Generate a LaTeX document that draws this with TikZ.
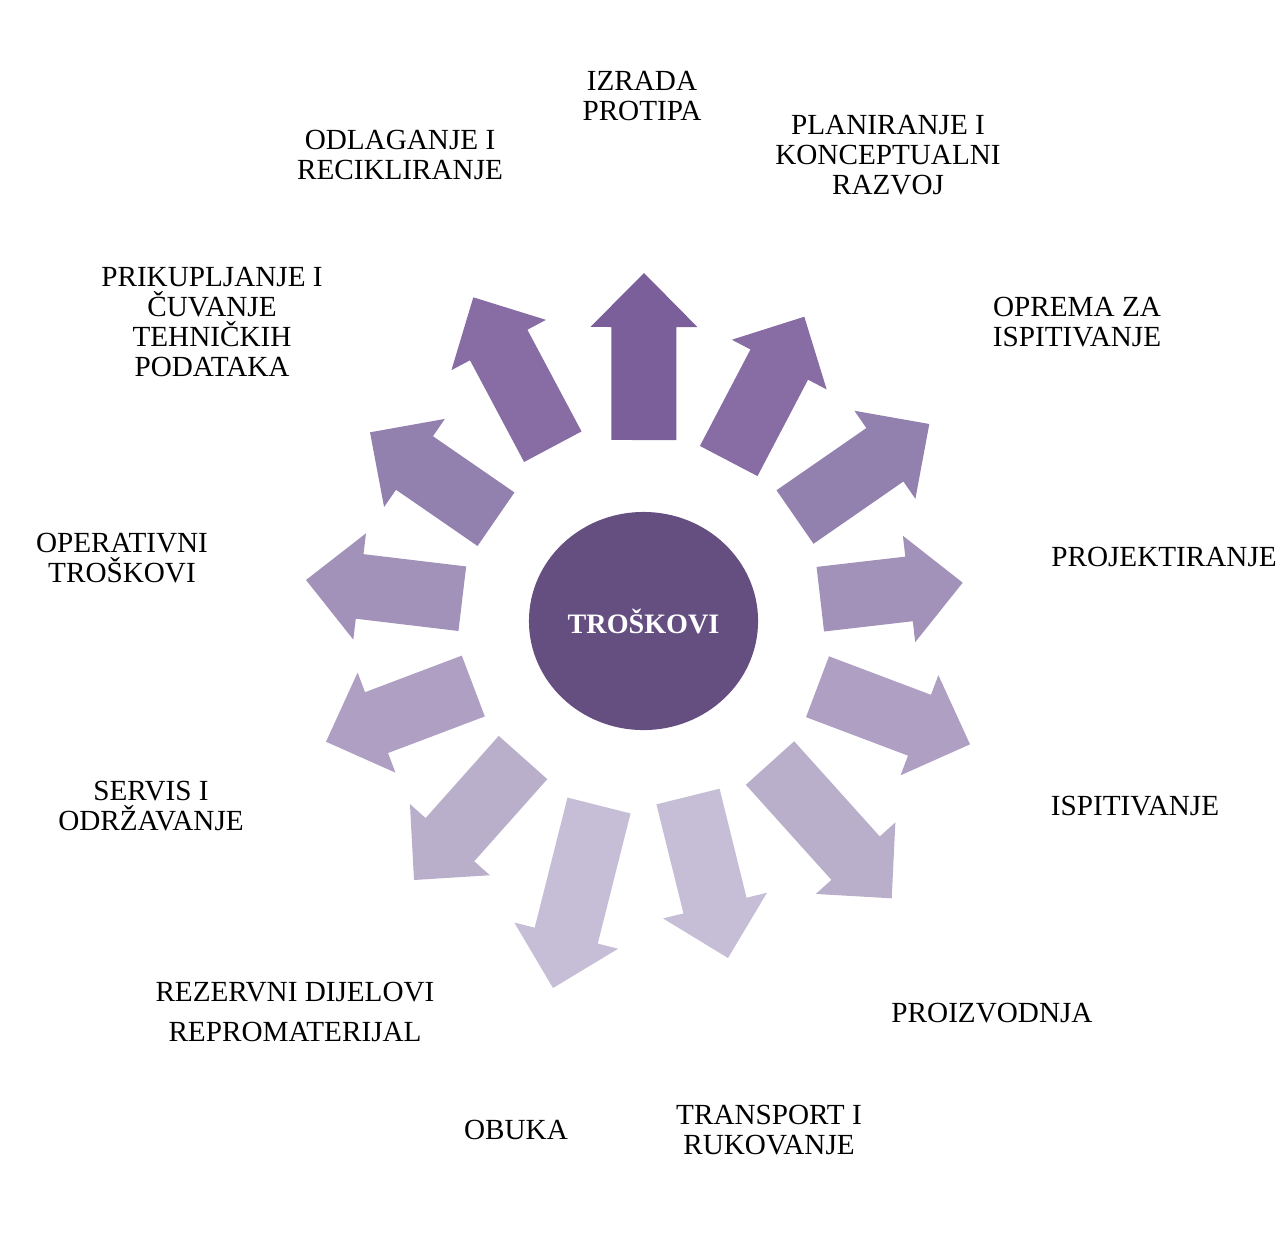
\documentclass[tikz,border=0pt]{standalone}
\usepackage{fontspec}
\setmainfont{Liberation Serif}
\usepackage{tikz}
\usetikzlibrary{shapes.geometric,calc}

\definecolor{hubpurple}{HTML}{654E80}
\definecolor{arr0}{HTML}{7B5F9B}
\definecolor{arr1}{HTML}{876DA3}
\definecolor{arr2}{HTML}{9280AE}
\definecolor{arr3}{HTML}{A292B9}
\definecolor{arr4}{HTML}{AFA0C3}
\definecolor{arr5}{HTML}{B9AFCA}
\definecolor{arr6}{HTML}{C6BED6}

\tikzset{
  costlabel/.style={align=center, inner sep=0pt, text=black, font=\fontsize{8.3}{8.6}\selectfont},
  hub/.style={ellipse, fill=hubpurple, minimum width=2.29cm, minimum height=2.18cm, inner sep=0pt,
    text=white, font=\fontsize{8}{9.6}\selectfont\bfseries}
}

% block arrow from base (#1) to tip (#2), filled with #3
\newcommand{\costarrow}[3]{%
  \coordinate (h) at ($(#2)!0.54cm!(#1)$);
  \fill[#3] ($(#1)!0.325cm!90:(#2)$) -- ($(h)!0.325cm!90:(#2)$) -- ($(h)!0.535cm!90:(#2)$)
    -- (#2) -- ($(h)!0.535cm!-90:(#2)$) -- ($(h)!0.325cm!-90:(#2)$) -- ($(#1)!0.325cm!-90:(#2)$) -- cycle;
}

\begin{document}
\begin{tikzpicture}[x=0.01cm, y=-0.01cm]
    \useasboundingbox (0,0) rectangle (1283,1233);

    % Centre
    \node[hub] (troskovi) at (643.5,621) {TROŠKOVI};

    % Arrow bases and tips
    \coordinate (b1) at (643.8,440);  \coordinate (t1) at (644,273);
    \coordinate (b2) at (728.7,461);  \coordinate (t2) at (804.3,316.7);
    \coordinate (b3) at (795,517);    \coordinate (t3) at (929.3,424);
    \coordinate (b4) at (820.3,599.2); \coordinate (t4) at (962.7,582.7);
    \coordinate (b5) at (817.5,686.7); \coordinate (t5) at (970,744.3);
    \coordinate (b6) at (770,763);    \coordinate (t6) at (891.7,898.3);
    \coordinate (b7) at (688,796.5);  \coordinate (t7) at (728,958);
    \coordinate (b8) at (599,805.5);  \coordinate (t8) at (553,988);
    \coordinate (b9) at (523,757.5);  \coordinate (t9) at (414,880);
    \coordinate (b10) at (473.3,686); \coordinate (t10) at (326,741.7);
    \coordinate (b11) at (462.3,598.7); \coordinate (t11) at (306,580);
    \coordinate (b12) at (496,519.2); \coordinate (t12) at (370,432.3);
    \coordinate (b13) at (552.8,446.7); \coordinate (t13) at (473.3,297.3);

    % Arrows
    \costarrow{b1}{t1}{arr0}
    \costarrow{b2}{t2}{arr1}
    \costarrow{b3}{t3}{arr2}
    \costarrow{b4}{t4}{arr3}
    \costarrow{b5}{t5}{arr4}
    \costarrow{b6}{t6}{arr5}
    \costarrow{b7}{t7}{arr6}
    \costarrow{b8}{t8}{arr6}
    \costarrow{b9}{t9}{arr5}
    \costarrow{b10}{t10}{arr4}
    \costarrow{b11}{t11}{arr3}
    \costarrow{b12}{t12}{arr2}
    \costarrow{b13}{t13}{arr1}

    % Labels
    \node[costlabel] (izrada) at (642,96) {IZRADA\\PROTIPA};
    \node[costlabel] (planiranje) at (888,155) {PLANIRANJE I\\KONCEPTUALNI\\RAZVOJ};
    \node[costlabel] (oprema) at (1077,322) {OPREMA ZA\\ISPITIVANJE};
    \node[costlabel] (projektiranje) at (1164,557) {PROJEKTIRANJE};
    \node[costlabel] (ispitivanje) at (1135,806) {ISPITIVANJE};
    \node[costlabel] (proizvodnja) at (992,1013) {PROIZVODNJA};
    \node[costlabel] (transport) at (769,1130) {TRANSPORT I\\RUKOVANJE};
    \node[costlabel] (obuka) at (516,1130) {OBUKA};
    \node[costlabel] (rezervni) at (295,1012) {REZERVNI DIJELOVI\\[3pt]REPROMATERIJAL};
    \node[costlabel] (servis) at (151,806) {SERVIS I\\ODRŽAVANJE};
    \node[costlabel] (operativni) at (122,558) {OPERATIVNI\\TROŠKOVI};
    \node[costlabel] (prikupljanje) at (212,322) {PRIKUPLJANJE I\\ČUVANJE\\TEHNIČKIH\\PODATAKA};
    \node[costlabel] (odlaganje) at (400,155) {ODLAGANJE I\\RECIKLIRANJE};
\end{tikzpicture}
\end{document}
